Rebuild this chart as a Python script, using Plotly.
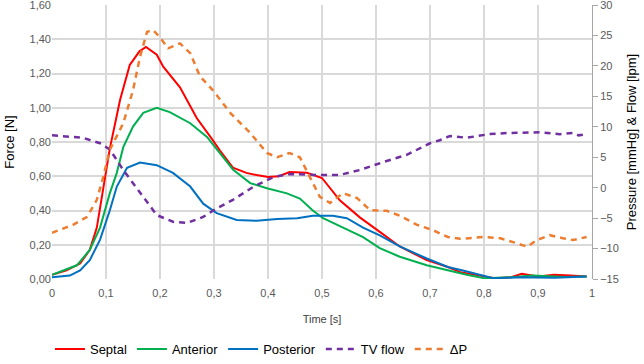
import plotly.graph_objects as go

# ---- data ----
t_septal = [0, 0.027, 0.052, 0.07, 0.083, 0.095, 0.107, 0.126, 0.144, 0.162, 0.174, 0.194, 0.206, 0.237, 0.268, 0.298,
            0.311, 0.335, 0.36, 0.379, 0.40, 0.42, 0.44, 0.472, 0.5, 0.533, 0.57, 0.607, 0.644, 0.694, 0.733,
            0.756, 0.79, 0.82, 0.85, 0.87, 0.9, 0.93, 0.96, 0.99]
septal = [0.025, 0.05, 0.09, 0.17, 0.30, 0.52, 0.76, 1.045, 1.25, 1.33, 1.355, 1.31, 1.24, 1.12, 0.94, 0.81,
          0.75, 0.65, 0.62, 0.607, 0.596, 0.60, 0.625, 0.62, 0.59, 0.46, 0.36, 0.275, 0.19, 0.11, 0.07,
          0.04, 0.02, 0.005, 0.01, 0.03, 0.015, 0.025, 0.02, 0.015]

t_anterior = [0, 0.046, 0.07, 0.089, 0.107, 0.12, 0.132, 0.15, 0.169, 0.194, 0.218, 0.256, 0.287, 0.305,
              0.335, 0.367, 0.398, 0.435, 0.459, 0.483, 0.502, 0.539, 0.576, 0.607, 0.644, 0.694, 0.733,
              0.768, 0.8, 0.85, 0.89, 0.95, 0.99]
anterior = [0.025, 0.08, 0.17, 0.30, 0.50, 0.62, 0.77, 0.89, 0.97, 1.0, 0.975, 0.91, 0.83, 0.76,
            0.64, 0.56, 0.53, 0.50, 0.47, 0.40, 0.355, 0.30, 0.245, 0.18, 0.13, 0.08, 0.05,
            0.025, 0.005, 0.01, 0.02, 0.012, 0.015]

t_posterior = [0, 0.033, 0.052, 0.07, 0.089, 0.107, 0.12, 0.139, 0.163, 0.194, 0.224, 0.256, 0.28, 0.305,
               0.342, 0.379, 0.417, 0.454, 0.483, 0.52, 0.546, 0.576, 0.607, 0.644, 0.694, 0.733, 0.761,
               0.817, 0.87, 0.93, 0.99]
posterior = [0.01, 0.02, 0.05, 0.11, 0.23, 0.40, 0.54, 0.65, 0.68, 0.665, 0.62, 0.54, 0.44, 0.385,
             0.345, 0.34, 0.35, 0.355, 0.37, 0.37, 0.355, 0.30, 0.255, 0.19, 0.12, 0.07, 0.05,
             0.005, 0.01, 0.008, 0.015]

t_tvflow = [0, 0.057, 0.089, 0.107, 0.132, 0.163, 0.194, 0.224, 0.25, 0.28, 0.305, 0.335, 0.372, 0.41, 0.44,
            0.49, 0.533, 0.57, 0.613, 0.657, 0.70, 0.718, 0.737, 0.768, 0.81, 0.842, 0.86, 0.904, 0.94,
            0.965, 0.975, 0.99]
tvflow = [8.6, 8.2, 7.3, 6.3, 2.9, -0.9, -4.5, -5.6, -5.8, -4.8, -3.4, -2.0, 0.1, 1.75, 2.25,
          2.1, 2.1, 2.9, 4.2, 5.4, 7.3, 7.8, 8.5, 8.2, 8.8, 8.97, 9.0, 9.1, 8.8,
          9.0, 8.6, 8.8]

t_dp = [0, 0.039, 0.065, 0.083, 0.095, 0.107, 0.132, 0.15, 0.163, 0.176, 0.187, 0.2, 0.215, 0.237, 0.256,
        0.274, 0.298, 0.33, 0.367, 0.398, 0.417, 0.44, 0.459, 0.478, 0.496, 0.515, 0.539, 0.565, 0.589,
        0.62, 0.644, 0.676, 0.706, 0.733, 0.756, 0.8, 0.83, 0.86, 0.88, 0.898, 0.922, 0.946, 0.965, 0.99]
dp = [-7.4, -6.1, -4.8, -2.0, 1.8, 6.2, 10.6, 16.0, 21.5, 25.6, 25.9, 24.7, 22.9, 23.7, 22.1,
      18.3, 16.0, 12.3, 9.0, 5.7, 5.0, 5.7, 5.0, 1.75, -1.5, -2.5, -0.9, -1.7, -3.7,
      -3.8, -4.6, -6.1, -7.0, -8.1, -8.4, -8.1, -8.3, -9.1, -9.7, -8.6, -7.8, -8.3, -8.6, -8.1]

x_ticks = [0, 0.1, 0.2, 0.3, 0.4, 0.5, 0.6, 0.7, 0.8, 0.9, 1]
x_labels = ["0", "0,1", "0,2", "0,3", "0,4", "0,5", "0,6", "0,7", "0,8", "0,9", "1"]
y_ticks = [0, 0.2, 0.4, 0.6, 0.8, 1.0, 1.2, 1.4, 1.6]
y_labels = ["0,00", "0,20", "0,40", "0,60", "0,80", "1,00", "1,20", "1,40", "1,60"]
y2_ticks = [-15, -10, -5, 0, 5, 10, 15, 20, 25, 30]

FONT = "Liberation Sans Narrow, Liberation Sans, Arial, sans-serif"
TICKC = "#595959"
GRID = "#d9d9d9"

fig = go.Figure()
fig.add_trace(go.Scatter(x=t_septal, y=septal, name="Septal", mode="lines",
                         line=dict(color="#FF0000", width=2)))
fig.add_trace(go.Scatter(x=t_anterior, y=anterior, name="Anterior", mode="lines",
                         line=dict(color="#00B050", width=2)))
fig.add_trace(go.Scatter(x=t_posterior, y=posterior, name="Posterior", mode="lines",
                         line=dict(color="#0070C0", width=2)))
fig.add_trace(go.Scatter(x=t_tvflow, y=tvflow, name="TV flow", mode="lines", yaxis="y2",
                         line=dict(color="#7030A0", width=2.5, dash="6px,5px")))
fig.add_trace(go.Scatter(x=t_dp, y=dp, name="ΔP", mode="lines", yaxis="y2",
                         line=dict(color="#ED7D31", width=2.5, dash="6px,5px")))

fig.update_layout(
    width=644, height=364,
    margin=dict(l=52, r=52, t=5, b=85),
    paper_bgcolor="white", plot_bgcolor="white",
    font=dict(family=FONT, size=11, color=TICKC),
    showlegend=True,
    legend=dict(orientation="h", xref="container", x=0.406, xanchor="center",
                yref="container", y=0.041, yanchor="middle",
                font=dict(size=13, color="#000000"), itemwidth=30, tracegroupgap=0),
    xaxis=dict(range=[0, 1], tickvals=x_ticks, ticktext=x_labels, showgrid=True, automargin=False,
               gridcolor=GRID, gridwidth=1.5, zeroline=False, showline=False, ticks="",
               ticklabelstandoff=6,
               tickfont=dict(size=11, color=TICKC),
               title=dict(text="Time [s]", font=dict(size=11, color="#404040"), standoff=17)),
    yaxis=dict(range=[0, 1.6005], tickvals=y_ticks, ticktext=y_labels, showgrid=True, automargin=False,
               gridcolor=GRID, gridwidth=1.5, zeroline=False, showline=False, ticks="",
               ticklabeloverflow="allow",
               tickfont=dict(size=11, color=TICKC),
               title=dict(text="Force [N]", font=dict(size=13, color="#000000"), standoff=12)),
    yaxis2=dict(range=[-15, 30.014], tickvals=y2_ticks, overlaying="y", side="right", automargin=False,
                showgrid=False, zeroline=False, showline=True, linecolor="#a6a6a6", linewidth=1,
                ticks="outside", ticklen=5, tickcolor="#a6a6a6",
                ticklabeloverflow="allow",
                tickfont=dict(size=11, color=TICKC),
                title=dict(text="Pressure [mmHg] & Flow [lpm]", font=dict(size=13, color="#000000"),
                           standoff=9)),
)

fig.write_html("out.html", config={"displayModeBar": False},
               post_script="document.body.style.margin='0';document.body.style.overflow='hidden';")
